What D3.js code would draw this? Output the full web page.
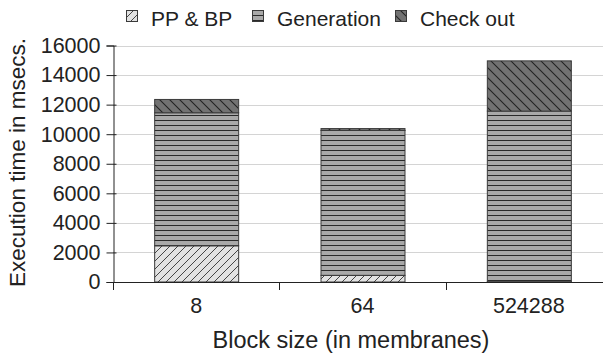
<!DOCTYPE html>
<html><head><meta charset="utf-8">
<script src="https://cdn.jsdelivr.net/npm/d3@7"></script>
<style>body{margin:0;background:#fff}svg{display:block}text{font-family:"Liberation Sans",Arial,sans-serif;fill:#222}</style>
</head><body>
<script>
const categories = ["8", "64", "524288"];
const seriesNames = ["PP & BP", "Generation", "Check out"];
const ppbp = [2450, 450, 20];
const generation = [9000, 9800, 11540];
const checkout = [900, 130, 3400];
const yTicks = [0, 2000, 4000, 6000, 8000, 10000, 12000, 14000, 16000];

const W = 603, H = 354;
const svg = d3.select("body").append("svg").attr("width", W).attr("height", H);
const defs = svg.append("defs");

// patterns
const p1 = defs.append("pattern").attr("id","pat0").attr("patternUnits","userSpaceOnUse").attr("width",8).attr("height",8);
p1.append("rect").attr("width",8).attr("height",8).attr("fill","#e2e2e2");
p1.append("path").attr("d","M0,8 L8,0 M-1,1 L1,-1 M7,9 L9,7").attr("stroke","#333").attr("stroke-width",0.9);
const p2 = defs.append("pattern").attr("id","pat1").attr("patternUnits","userSpaceOnUse").attr("width",10).attr("height",5);
p2.append("rect").attr("width",10).attr("height",5).attr("fill","#a9a9a9");
p2.append("path").attr("d","M0,0.5 L10,0.5").attr("stroke","#2a2a2a").attr("stroke-width",1);
const p3 = defs.append("pattern").attr("id","pat2").attr("patternUnits","userSpaceOnUse").attr("width",10).attr("height",10);
p3.append("rect").attr("width",10).attr("height",10).attr("fill","#727272");
p3.append("path").attr("d","M0,0 L10,10 M-1,9 L1,11 M9,-1 L11,1").attr("stroke","#222").attr("stroke-width",1.1);

const x = d3.scaleBand().domain(categories).range([113, 612]).paddingInner(0.495).paddingOuter(0.2475);
const y = d3.scaleLinear().domain([0, 16000]).range([282, 45.5]);

// gridlines
svg.append("g").selectAll("line").data(yTicks.filter(d=>d>0)).join("line")
  .attr("x1", 113).attr("x2", W).attr("y1", d=>Math.round(y(d))+0.5).attr("y2", d=>Math.round(y(d))+0.5)
  .attr("stroke", "#d4d4d4").attr("stroke-width", 1.2);

// y axis
const yAxis = d3.axisLeft(y).tickValues(yTicks).tickSize(7).tickPadding(6).tickFormat(d3.format("d"));
const gy = svg.append("g").attr("transform","translate(113.5,0)").call(yAxis);
gy.select(".domain").attr("stroke","#222");
gy.selectAll(".tick line").attr("stroke","#222").attr("x2",-7).attr("x1",3);
gy.selectAll(".tick text").attr("font-size",21.5).attr("fill","#222").attr("x",-13).attr("font-family","Liberation Sans, Arial, sans-serif");

// stacked bars
const data = categories.map((c,i)=>({cat:c, vals:[ppbp[i], generation[i], checkout[i]]}));
const stack = d3.stack().keys([0,1,2]).value((d,k)=>d.vals[k]);
const layers = stack(data);
layers.forEach((layer, k)=>{
  svg.append("g").selectAll("rect").data(layer).join("rect")
    .attr("x", d=>x(d.data.cat)+0.5)
    .attr("width", x.bandwidth())
    .attr("y", d=>y(d[1]))
    .attr("height", d=>y(d[0])-y(d[1]))
    .attr("fill", `url(#pat${k})`)
    .attr("stroke", "#3a3a3a").attr("stroke-width", 1);
});

// x axis
svg.append("line").attr("x1",113).attr("x2",W).attr("y1",282.5).attr("y2",282.5).attr("stroke","#222");
const step = x.step(), pad = (step - x.bandwidth())/2;
const bounds = categories.map(c=>x(c)-pad).concat([x(categories[categories.length-1])+x.bandwidth()+pad]);
svg.append("g").selectAll("line").data(bounds).join("line")
  .attr("x1", d=>Math.round(d)+0.5).attr("x2", d=>Math.round(d)+0.5).attr("y1",282).attr("y2",290)
  .attr("stroke","#222");
svg.append("g").selectAll("text").data(categories).join("text")
  .attr("x", d=>x(d)+x.bandwidth()/2).attr("y", 313).attr("text-anchor","middle").attr("font-size",21.5).text(d=>d);

// axis titles
svg.append("text").attr("x", 351).attr("y", 348).attr("text-anchor","middle").attr("font-size",23.5).text("Block size (in membranes)");
svg.append("text").attr("transform","translate(25,162.5) rotate(-90)").attr("text-anchor","middle").attr("font-size",22.5).text("Execution time in msecs.");

// legend
const legX = [126, 252, 395];
const lg = svg.append("g");
seriesNames.forEach((n,i)=>{
  lg.append("rect").attr("x",legX[i]+0.5).attr("y",10.5).attr("width",11).attr("height",11)
    .attr("fill",`url(#pat${i})`).attr("stroke","#3a3a3a");
  lg.append("text").attr("x",legX[i]+25).attr("y",25.5).attr("font-size",21).text(n);
});
</script>
</body></html>
